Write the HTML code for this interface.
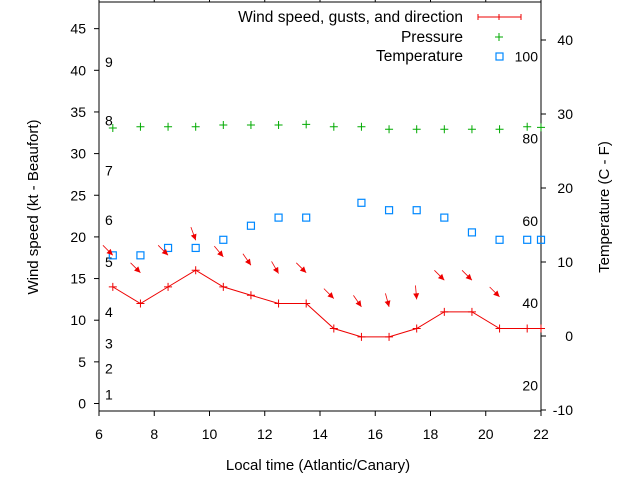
<!DOCTYPE html>
<html><head><meta charset="utf-8"><style>
body{margin:0;background:#fff}
svg{display:block;font-family:"Liberation Sans",sans-serif;font-size:14px}
</style></head><body>
<svg id="c" width="640" height="480" viewBox="0 0 640 480">
<g id="axes"></g><g id="marks"></g>
</svg>
<script>
const hours=[6.5,7.5,8.5,9.5,10.5,11.5,12.5,13.5,14.5,15.5,16.5,17.5,18.5,19.5,20.5,21.5,22];
const windSpeed=[14,12,14,16,14,13,12,12,9,8,8,9,11,11,9,9,9];
const gustHours=[6.5,7.5,8.5,9.5,10.5,11.5,12.5,13.5,14.5,15.5,16.5,17.5,18.5,19.5,20.5];
const gustSpeed=[17.8,15.7,17.8,19.6,17.6,16.6,15.6,15.7,12.6,11.6,11.6,12.5,14.8,14.8,12.8];
const windDir=[315,315,315,340,320,325,330,315,315,325,345,355,315,315,315];
const tempHours=[6.5,7.5,8.5,9.5,10.5,11.5,12.5,13.5,15.5,16.5,17.5,18.5,19.5,20.5,21.5,22];
const tempC=[10.9,10.9,11.9,11.9,13,14.9,16,16,18,17,17,16,14,13,13,13];
const presHours=[6.5,7.5,8.5,9.5,10.5,11.5,12.5,13.5,14.5,15.5,16.5,17.5,18.5,19.5,20.5,21.5,22];
const pressure=[1016,1016.2,1016.2,1016.2,1016.5,1016.5,1016.5,1016.6,1016.2,1016.2,1015.8,1015.8,1015.8,1015.8,1015.8,1016.2,1016.1];
const xTicks=[6,8,10,12,14,16,18,20,22];
const yTicks=[0,5,10,15,20,25,30,35,40,45];
const y2Ticks=[-10,0,10,20,30,40];
const beaufort=[[1,1.1],[2,4.2],[3,7.2],[4,11],[5,17],[6,22],[7,28],[8,34],[9,41]];
const fahr=[20,40,60,80,100];

const L=99,R=541,T=2,B=411;
const X=h=>L+(h-6)*(R-L)/16;
const Y=v=>403.5-v*8.33;
const Y2=c=>336-c*7.4;
const YP=p=>128-(p-1016)*6;
const NS='http://www.w3.org/2000/svg';
function mk(par,tag,a){const e=document.createElementNS(NS,tag);for(const k in a)e.setAttribute(k,a[k]);par.appendChild(e);return e;}
const ax=document.getElementById('axes'),mg=document.getElementById('marks');
let e=mk(ax,'rect',{x:L,y:T,width:R-L,height:B-T,fill:'none',stroke:'#000','stroke-width':1});


xTicks.forEach(t=>{
 mk(ax,'line',{x1:X(t),x2:X(t),y1:B,y2:B+5,stroke:'#000'});
 mk(ax,'line',{x1:X(t),x2:X(t),y1:T,y2:T-5,stroke:'#000'});
 const tx=mk(ax,'text',{x:X(t),y:439,'text-anchor':'middle'});tx.textContent=t;
 
 
});
yTicks.forEach(t=>{
 mk(ax,'line',{x1:L-5,x2:L,y1:Y(t),y2:Y(t),stroke:'#000'});
 const tx=mk(ax,'text',{x:L-13,y:Y(t)+5,'text-anchor':'end'});tx.textContent=t;
 
 
});
y2Ticks.forEach(t=>{
 mk(ax,'line',{x1:R,x2:R+5,y1:Y2(t),y2:Y2(t),stroke:'#000'});
 const tx=mk(ax,'text',{x:573,y:Y2(t)+5,'text-anchor':'end'});tx.textContent=t;
 
 
});
beaufort.forEach(b=>{
 const tx=mk(ax,'text',{x:105,y:Y(b[1])+5});tx.textContent=b[0];
 
 
});
fahr.forEach(f=>{
 const tx=mk(ax,'text',{x:538,y:Y2((f-32)/1.8)+5,'text-anchor':'end'});tx.textContent=f;
 
 
});
let t1=mk(ax,'text',{x:318,y:470,'text-anchor':'middle','font-size':15});t1.textContent='Local time (Atlantic/Canary)';


let t2=mk(ax,'text',{x:38,y:207,'text-anchor':'middle','font-size':15,transform:'rotate(-90 38 207)'});t2.textContent='Wind speed (kt - Beaufort)';


let t3=mk(ax,'text',{x:609,y:207,'text-anchor':'middle','font-size':15,transform:'rotate(-90 609 207)'});t3.textContent='Temperature (C - F)';



// legend
[['Wind speed, gusts, and direction',17],['Pressure',37],['Temperature',56]].forEach(l=>{
 const tx=mk(ax,'text',{x:463,y:l[1]+5,'text-anchor':'end','font-size':15.5});tx.textContent=l[0];
 
 
});
mk(ax,'path',{d:'M478 17H521M478 14V20M499 14V20M521 14V20M495 17H503',stroke:'#e00',fill:'none'});
mk(ax,'path',{d:'M499 33V41M495 37H503',stroke:'#0a0',fill:'none'});
mk(ax,'rect',{x:496,y:53,width:7,height:7,stroke:'#08f',fill:'none','stroke-width':1.2});

// pressure
presHours.forEach((h,i)=>{
 const x=X(h),y=YP(pressure[i]);
 const p=mk(mg,'path',{d:`M${x-4} ${y}H${x+4}M${x} ${y-4}V${y+4}`,stroke:'#0a0'});
 
 
});
// temperature
tempHours.forEach((h,i)=>{
 const r=mk(mg,'rect',{x:X(h)-3.5,y:Y2(tempC[i])-3.5,width:7,height:7,fill:'none',stroke:'#08f','stroke-width':1.2});
 
 
});
// wind line
const pl=mk(mg,'polyline',{points:hours.map((h,i)=>X(h)+','+Y(windSpeed[i])).join(' '),fill:'none',stroke:'#e00'});


hours.forEach((h,i)=>{
 const x=X(h),y=Y(windSpeed[i]);
 const p=mk(mg,'path',{d:`M${x-4} ${y}H${x+4}M${x} ${y-4}V${y+4}`,stroke:'#e00'});
 
 
});
// gust arrows
gustHours.forEach((h,i)=>{
 const x=X(h),y=Y(gustSpeed[i]);
 const a=(windDir[i]+180)*Math.PI/180;
 const dx=Math.sin(a),dy=-Math.cos(a);
 const len=14;
 const g=mk(mg,'g',{});
 
 
 mk(g,'line',{x1:x-dx*len,y1:y-dy*len,x2:x,y2:y,stroke:'#e00','stroke-width':0.8});
 const px=-dy,py=dx,hl=6,hw=3;
 mk(g,'polygon',{points:`${x},${y} ${x-dx*hl+px*hw},${y-dy*hl+py*hw} ${x-dx*hl-px*hw},${y-dy*hl-py*hw}`,fill:'#e00'});
});
</script>
</body></html>
